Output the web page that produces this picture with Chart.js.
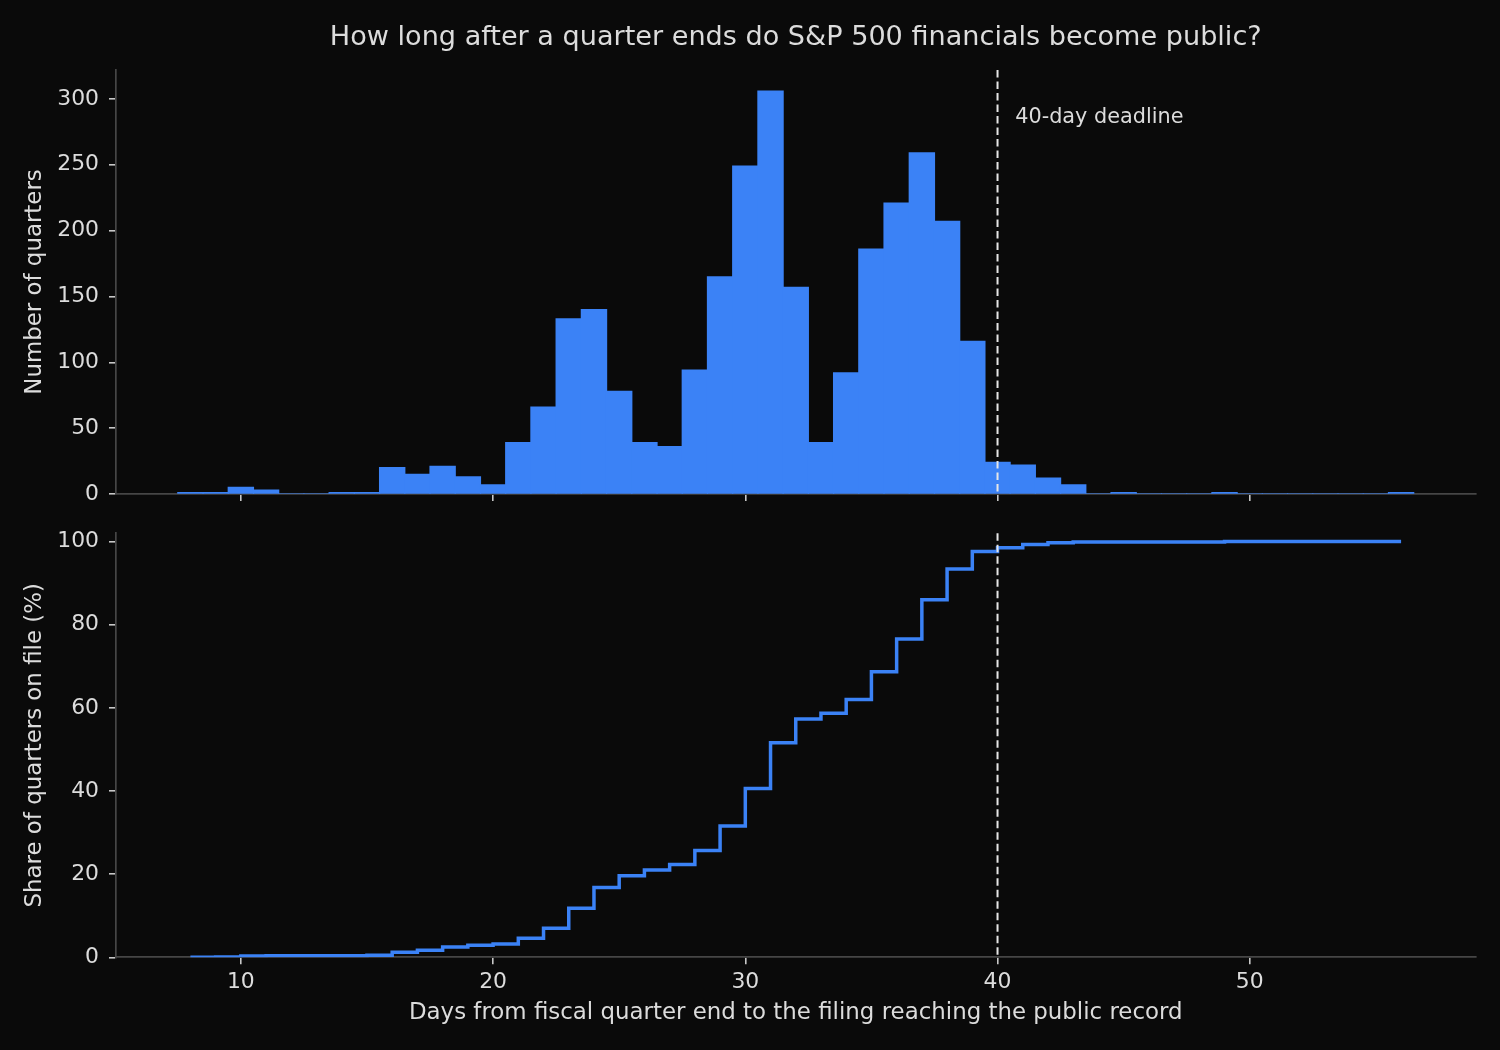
<!DOCTYPE html>
<html>
<head>
<meta charset="utf-8">
<script src="https://cdn.jsdelivr.net/npm/chart.js@4.4.1/dist/chart.umd.min.js"></script>
<style>
  html, body { margin: 0; padding: 0; background: #0a0a0a; }
  #wrap { position: relative; width: 1500px; height: 1050px; background: #0a0a0a; }
  canvas { position: absolute; left: 0; }
  #hist { top: 0; }
  #cum { top: 520px; }
</style>
</head>
<body>
<div id="wrap">
  <canvas id="hist" width="1500" height="520"></canvas>
  <canvas id="cum" width="1500" height="530"></canvas>
</div>
<script>
// days after quarter end (1-day bins)
const days = [8, 9, 10, 11, 12, 13, 14, 15, 16, 17, 18, 19, 20, 21, 22, 23, 24, 25, 26, 27, 28, 29, 30, 31,
              32, 33, 34, 35, 36, 37, 38, 39, 40, 41, 42, 43, 44, 45, 46, 47, 48, 49, 50, 51, 52, 53, 54, 55, 56];
// number of quarters filed on each day
const quarterCounts = [1, 1, 5, 3, 0, 0, 1, 1, 20, 15, 21, 13, 7, 39, 66, 133, 140, 78, 39, 36, 94, 165, 249, 306,
                       157, 39, 92, 186, 221, 259, 207, 116, 24, 22, 12, 7, 0, 1, 0, 0, 0, 1, 0, 0, 0, 0, 0, 0, 1];
// share of quarters on file by that day (%)
const shareOnFile = [0.0, 0.1, 0.3, 0.4, 0.4, 0.4, 0.4, 0.5, 1.2, 1.7, 2.5, 2.9, 3.2, 4.6, 7.0, 11.8, 16.8, 19.6, 21.0, 22.3, 25.7, 31.6, 40.6, 51.6,
                     57.3, 58.7, 62.0, 68.7, 76.6, 86.0, 93.4, 97.6, 98.5, 99.3, 99.7, 99.9, 99.9, 99.9, 99.9, 99.9, 99.9, 100, 100, 100, 100, 100, 100, 100, 100];

const xTicks = [10, 20, 30, 40, 50];
const countTicks = [0, 50, 100, 150, 200, 250, 300];
const shareTicks = [0, 20, 40, 60, 80, 100];
const deadlineDay = 40;

const TITLE = "How long after a quarter ends do S&P 500 financials become public?";
const BLUE = "#3b82f6";
const TEXT = "#dcdcdc";
const SPINE = "#464646";
const TICK = "#c8c8c8";
const FONT = "'DejaVu Sans', sans-serif";

const setTicks = (values) => (scale) => {
    scale.ticks = values.map(v => ({ value: v }));
};

function xScale(showLabels) {
    return {
        type: "linear",
        min: 5.05,
        max: 58.95,
        offset: false,
        afterBuildTicks: setTicks(xTicks),
        afterFit: (s) => {
            s.height = showLabels ? 92.7 : 26;
            s.paddingLeft = 0;
            s.paddingRight = 0;
        },
        grid: { offset: false, drawOnChartArea: false, drawTicks: true, tickLength: 7, color: TICK, lineWidth: 1.6 },
        border: { display: true, color: SPINE, width: 1.7 },
        ticks: { display: showLabels, color: TEXT, padding: 5, font: { family: FONT, size: 21.9 } },
        title: {
            display: showLabels,
            text: "Days from fiscal quarter end to the filing reaching the public record",
            color: TEXT,
            font: { family: FONT, size: 22.9 },
            padding: { top: 0, bottom: 23.5 },
        },
    };
}

function yScale(max, ticks, label) {
    return {
        min: 0,
        max: max,
        afterBuildTicks: setTicks(ticks),
        afterFit: (s) => {
            s.width = 116;
            s.paddingTop = 0;
            s.paddingBottom = 0;
        },
        grid: { drawOnChartArea: false, drawTicks: true, tickLength: 7, color: TICK, lineWidth: 1.6 },
        border: { display: true, color: SPINE, width: 1.7 },
        ticks: { color: TEXT, padding: 10, font: { family: FONT, size: 21.9 } },
        title: {
            display: true,
            text: label,
            color: TEXT,
            font: { family: FONT, size: 22.9 },
            padding: { top: 21.3, bottom: 0 },
        },
    };
}

// dashed vertical line at the deadline, optional label
function deadlinePlugin(withLabel) {
    return {
        id: "deadline",
        afterDatasetsDraw(chart) {
            const { ctx, chartArea, scales } = chart;
            const x = scales.x.getPixelForValue(deadlineDay);
            ctx.save();
            ctx.strokeStyle = "#e6e6e6";
            ctx.lineWidth = 2;
            ctx.setLineDash([7.5, 4]);
            ctx.beginPath();
            ctx.moveTo(x, chartArea.top);
            ctx.lineTo(x, chartArea.bottom);
            ctx.stroke();
            if (withLabel) {
                ctx.setLineDash([]);
                ctx.fillStyle = TEXT;
                ctx.font = "20.8px " + FONT;
                ctx.textAlign = "left";
                ctx.textBaseline = "middle";
                ctx.fillText("40-day deadline", scales.x.getPixelForValue(deadlineDay + 0.7), scales.y.getPixelForValue(286));
            }
            ctx.restore();
        },
    };
}

const titlePlugin = {
    id: "figTitle",
    afterDraw(chart) {
        const { ctx, chartArea } = chart;
        ctx.save();
        ctx.fillStyle = TEXT;
        ctx.font = "27.1px " + FONT;
        ctx.textAlign = "center";
        ctx.textBaseline = "middle";
        ctx.fillText(TITLE, (chartArea.left + chartArea.right) / 2, 38);
        ctx.restore();
    },
};

Chart.defaults.font.family = FONT;

new Chart(document.getElementById("hist"), {
    type: "bar",
    data: {
        datasets: [{
            data: days.map((d, i) => ({ x: d, y: quarterCounts[i] })),
            backgroundColor: BLUE,
            borderWidth: 0,
            inflateAmount: 0.6,
            barPercentage: 1.0,
            categoryPercentage: 1.0,
        }],
    },
    options: {
        responsive: false,
        animation: false,
        layout: { padding: { left: 0, right: 24.5, top: 70, bottom: 0 } },
        plugins: { legend: { display: false }, tooltip: { enabled: false } },
        scales: {
            x: xScale(false),
            y: yScale(322, countTicks, "Number of quarters"),
        },
    },
    plugins: [deadlinePlugin(true), titlePlugin],
});

new Chart(document.getElementById("cum"), {
    type: "line",
    data: {
        datasets: [{
            data: days.map((d, i) => ({ x: d, y: shareOnFile[i] })),
            borderColor: BLUE,
            borderWidth: 3.5,
            stepped: "before",
            pointRadius: 0,
            fill: false,
        }],
    },
    options: {
        responsive: false,
        animation: false,
        layout: { padding: { left: 0, right: 24.5, top: 13.3, bottom: 0 } },
        plugins: { legend: { display: false }, tooltip: { enabled: false } },
        scales: {
            x: xScale(true),
            y: yScale(102, shareTicks, "Share of quarters on file (%)"),
        },
    },
    plugins: [deadlinePlugin(false)],
});
</script>
</body>
</html>
